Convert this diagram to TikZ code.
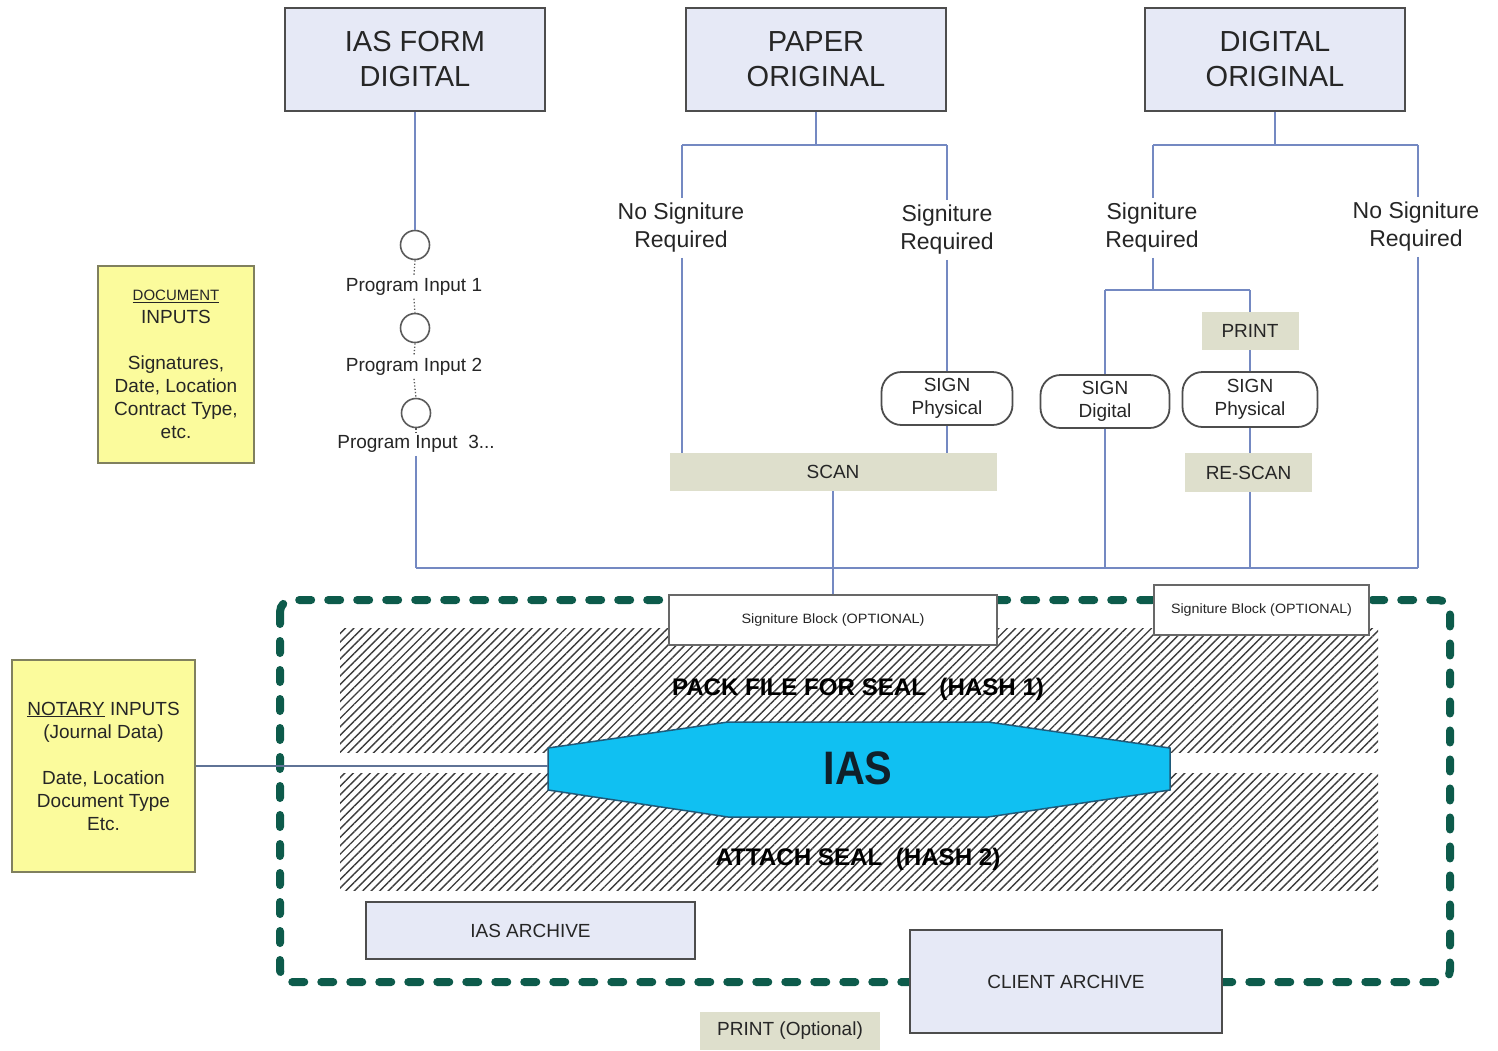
\documentclass[tikz,border=0pt]{standalone}
\usepackage{fontspec}
\setmainfont{Liberation Sans}
\usetikzlibrary{patterns.meta}
\definecolor{linec}{HTML}{7489C2}
\definecolor{linec2}{HTML}{5F7396}
\definecolor{boxfill}{HTML}{E6E9F6}
\definecolor{boxdraw}{HTML}{4D4D4D}
\definecolor{khaki}{HTML}{DEDFCC}
\definecolor{yelfill}{HTML}{FBFB9C}
\definecolor{yeldraw}{HTML}{80805E}
\definecolor{dashc}{HTML}{0D5B4B}
\definecolor{iasblue}{HTML}{10C0F2}
\definecolor{iasedge}{HTML}{1F5A7A}
\definecolor{iastxt}{HTML}{10202A}
\definecolor{hatchc}{HTML}{3C3C3C}
\definecolor{txt}{HTML}{262626}
\definecolor{cgray}{HTML}{5A5A5A}
\newcommand\fitw[2]{\resizebox{#1}{\height}{#2}}
\newcommand\fsz[2]{\fontsize{#1}{#2}\selectfont}
\begin{document}
\begin{tikzpicture}[x=1pt,y=-1pt,
  conn/.style={draw=linec,line width=1.7pt},
  topbox/.style={draw=boxdraw,fill=boxfill,line width=2pt,minimum width=260pt,minimum height=103pt,align=center,font=\fsz{29}{35},text=txt,inner sep=0pt},
  lbl/.style={align=center,font=\fsz{23}{28},text=txt,inner sep=5pt},
  pin/.style={font=\fsz{19}{23},text=txt,inner sep=3pt},
  circ/.style={circle,draw=cgray,line width=1.6pt,fill=white,minimum size=29pt,inner sep=0pt},
  signbox/.style={draw=boxdraw,line width=1.8pt,rounded corners=20pt,fill=white,align=center,font=\fsz{19}{23},text=txt,inner sep=0pt},
  khbox/.style={fill=khaki,font=\fsz{19}{23},text=txt,inner sep=0pt},
  sigblk/.style={draw=boxdraw!85,line width=1.5pt,fill=white,font=\fsz{13.5}{16},text=txt,inner sep=0pt},
  archbox/.style={draw=boxdraw,fill=boxfill,line width=2pt,font=\fsz{19}{23},text=txt,inner sep=0pt},
  yelbox/.style={draw=yeldraw,fill=yelfill,line width=2pt,align=center,font=\fsz{19}{23},text=txt,inner sep=0pt},
  hashtxt/.style={font=\bfseries\fsz{24}{28},text=black,inner sep=0pt},
  dotline/.style={draw=cgray,line width=1.3pt,dotted},
  hatch/.style={pattern={Lines[angle=45,distance=6pt,line width=1.4pt]},pattern color=hatchc}
]
\useasboundingbox (0,0) rectangle (1498,1050);
\fill[white] (0,0) rectangle (1498,1050);

% dashed IAS boundary
\draw[draw=dashc,line width=8pt,dash pattern=on 12pt off 17pt,line cap=round,rounded corners=12pt] (280,600) rectangle (1450,982);

% hatched bands
\fill[hatch] (340,628) rectangle (1378,752);
\fill[hatch] (340,773) rectangle (1378,890);

% IAS shape
\draw[fill=iasblue,draw=iasedge,line width=1.5pt] (548,748) -- (728,722) -- (988,722) -- (1170,748) -- (1170,790) -- (988,817) -- (728,817) -- (548,790) -- cycle;
\coordinate (iasL) at (548,768);
\node[font=\bfseries\fsz{47}{50},text=iastxt,inner sep=0pt] (ias) at (858,768) {\fitw{69pt}{IAS}};
\node[hashtxt] (pack) at (858,689) {\fitw{372pt}{PACK FILE FOR SEAL\ \ (HASH 1)}};
\node[hashtxt] (attach) at (858,859) {\fitw{285pt}{ATTACH SEAL\ \ (HASH 2)}};

% top boxes
\node[topbox] (iasform) at (415,59.5) {IAS FORM\\DIGITAL};
\node[topbox] (paper) at (816,59.5) {PAPER\\ORIGINAL};
\node[topbox] (digital) at (1275,59.5) {DIGITAL\\ORIGINAL};

% labels
\node[lbl] (nsr1) at (681,228) {No Signiture\\Required};
\node[lbl] (sr1) at (947,230) {Signiture\\Required};
\node[lbl] (sr2) at (1152,228) {Signiture\\Required};
\node[lbl] (nsr2) at (1416,227) {No Signiture\\Required};

% program inputs
\node[circ] (c1) at (415,245) {};
\node[pin] (p1) at (414,287) {Program Input 1};
\node[circ] (c2) at (415,328) {};
\node[pin] (p2) at (414,367) {Program Input 2};
\node[circ] (c3) at (416,413) {};
\node[pin] (p3) at (416,444) {Program Input\ \ 3...};

% sign boxes
\node[signbox,minimum width=131pt,minimum height=53pt] (sp1) at (947,398.5) {SIGN\\Physical};
\node[signbox,minimum width=129pt,minimum height=53pt] (sd) at (1105,401.5) {SIGN\\Digital};
\node[signbox,minimum width=135pt,minimum height=55pt] (sp2) at (1250,399.5) {SIGN\\Physical};

% khaki boxes
\node[khbox,minimum width=327pt,minimum height=38pt] (scan) at (833,472) {SCAN};
\node[khbox,minimum width=97pt,minimum height=38pt] (print) at (1250,331) {PRINT};
\node[khbox,minimum width=127pt,minimum height=39pt] (rescan) at (1248.5,472.5) {RE-SCAN};

% signature blocks
\node[sigblk,minimum width=328pt,minimum height=50pt] (sb1) at (833,620) {\fitw{183pt}{Signiture Block (OPTIONAL)}};
\node[sigblk,minimum width=215pt,minimum height=50pt] (sb2) at (1261.5,610) {\fitw{181pt}{Signiture Block (OPTIONAL)}};

% archives
\node[archbox,minimum width=329pt,minimum height=57pt] (iasarch) at (530.5,930.5) {IAS ARCHIVE};
\node[archbox,minimum width=312pt,minimum height=103pt] (clarch) at (1066,981.5) {CLIENT ARCHIVE};
\node[khbox,minimum width=180pt,minimum height=38pt] (printopt) at (790,1031) {PRINT (Optional)};

% yellow input boxes
\node[yelbox,minimum width=156pt,minimum height=197pt] (docin) at (176,364.5) {{\fsz{15}{23}\underline{DOCUMENT}}\\INPUTS\\[23pt]Signatures,\\Date, Location\\Contract Type,\\etc.};
\node[yelbox,minimum width=183pt,minimum height=212pt] (notary) at (103.5,766) {\underline{NOTARY} INPUTS\\(Journal Data)\\[23pt]Date, Location\\Document Type\\Etc.};

% junctions
\coordinate (pl) at (682,145);
\coordinate (pr) at (947,145);
\coordinate (dl) at (1153,145);
\coordinate (dr) at (1418,145);
\coordinate (dl2) at (1105,290);
\coordinate (dr2) at (1250,290);
\coordinate (bus) at (416,568);

% connectors: IAS form
\draw[conn] (iasform.south) -- (c1.north);
\draw[dotline] (c1.south) -- (p1.north);
\draw[dotline] (p1.south) -- (c2.north);
\draw[dotline] (c2.south) -- (p2.north);
\draw[dotline] (p2.south) -- (c3.north);
\draw[dotline] (c3.south) -- (p3.north);
\draw[conn] (p3.south) -- (bus);
\draw[conn] (bus) -- (dr |- bus);

% paper original
\draw[conn] (paper.south) -- (paper.south |- pl);
\draw[conn] (pl) -- (pr);
\draw[conn] (pl) -- (pl |- nsr1.north);
\draw[conn] (pl |- nsr1.south) -- (pl |- scan.north);
\draw[conn] (pr) -- (pr |- sr1.north);
\draw[conn] (pr |- sr1.south) -- (sp1.north);
\draw[conn] (sp1.south) -- (pr |- scan.north);
\draw[conn] (scan.south) -- (sb1.north);

% digital original
\draw[conn] (digital.south) -- (digital.south |- dl);
\draw[conn] (dl) -- (dr);
\draw[conn] (dl) -- (dl |- sr2.north);
\draw[conn] (dl |- sr2.south) -- (dl |- dl2);
\draw[conn] (dl2) -- (dr2);
\draw[conn] (dl2) -- (sd.north);
\draw[conn] (sd.south) -- (sd.south |- bus);
\draw[conn] (dr2) -- (print.north);
\draw[conn] (print.south) -- (sp2.north);
\draw[conn] (sp2.south) -- (dr2 |- rescan.north);
\draw[conn] (dr2 |- rescan.south) -- (dr2 |- bus);
\draw[conn] (dr) -- (dr |- nsr2.north);
\draw[conn] (dr |- nsr2.south) -- (dr |- bus);

% notary to IAS
\draw[draw=linec2,line width=1.4pt] (notary.east) -- (notary.east -| iasL);
\end{tikzpicture}
\end{document}
